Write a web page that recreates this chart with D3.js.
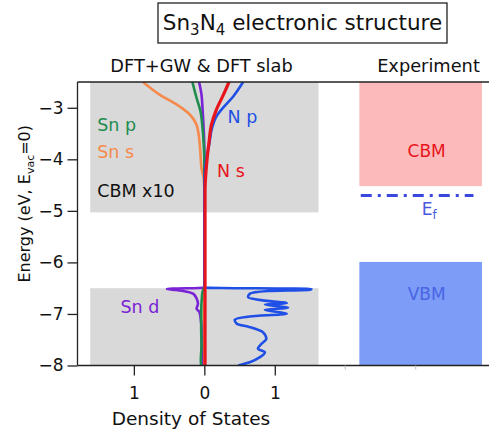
<!DOCTYPE html>
<html>
<head>
<meta charset="utf-8">
<script src="https://cdn.jsdelivr.net/npm/d3@7"></script>
<style>
  html, body { margin: 0; padding: 0; background: #fff; }
  svg { display: block; font-family: "DejaVu Sans", Verdana, sans-serif; }
</style>
</head>
<body>
<svg id="chart" width="489" height="431"></svg>
<script>
// Projected densities of states, [energy (eV), DOS]; Sn orbitals drawn to the left (negative side).
const snS = [[-2.5,-0.87],[-2.75,-0.63],[-2.94,-0.39],[-3.14,-0.20],[-3.33,-0.11],[-3.59,-0.074],[-3.91,-0.054],[-4.17,-0.04],[-4.37,-0.01],[-4.6,0],[-6.5,0],[-7.5,-0.01],[-8,-0.01]];
const snP = [[-2.5,-0.17],[-2.81,-0.11],[-3.07,-0.054],[-3.39,-0.026],[-3.72,-0.008],[-4.02,0],[-6.45,0],[-6.6,-0.03],[-7.0,-0.045],[-7.3,-0.045],[-7.6,-0.04],[-7.9,-0.05],[-8,-0.045]];
const snD = [[-2.5,-0.074],[-2.75,-0.04],[-3.0,-0.026],[-3.4,-0.01],[-3.8,0],[-6.49,0],[-6.515,-0.53],[-6.535,-0.40],[-6.556,-0.30],[-6.607,-0.16],[-6.70,-0.11],[-6.80,-0.09],[-6.90,-0.11],[-6.96,-0.07],[-7.06,-0.055],[-7.3,-0.04],[-8,-0.035]];
const nP = [[-2.5,0.55],[-2.78,0.41],[-3.04,0.24],[-3.17,0.17],[-3.39,0.11],[-3.72,0.068],[-3.98,0.03],[-4.2,0.01],[-4.5,0],[-6.49,0],[-6.515,1.52],[-6.53,1.5],[-6.556,0.9],[-6.607,0.645],[-6.673,0.62],[-6.737,0.83],[-6.79,1.17],[-6.815,0.86],[-6.879,1.19],[-6.92,0.86],[-6.996,1.17],[-7.048,0.645],[-7.112,0.43],[-7.19,0.46],[-7.256,0.645],[-7.353,0.83],[-7.482,0.88],[-7.579,0.81],[-7.676,0.76],[-7.742,0.86],[-7.839,0.79],[-7.936,0.645],[-8,0.48]];
const nS = [[-2.5,0.35],[-2.75,0.27],[-3.04,0.17],[-3.33,0.10],[-3.65,0.068],[-3.98,0.04],[-4.30,0.02],[-4.6,0.01],[-8,0.01]];

// Energy windows shaded behind the calculated DOS (conduction band is scaled x10)
const calcWindows = [{ top: -2.5, bottom: -5.03 }, { top: -6.5, bottom: -8 }];
// Measured band edges and Fermi level
const expBands = [
  { name: "CBM", top: -2.5, bottom: -4.52, fill: "#fcbabb", text: "#e8141c", labelE: -3.84 },
  { name: "VBM", top: -5.99, bottom: -8, fill: "#7c9cf7", text: "#4a64e4", labelE: -6.62 }
];
const fermiLevel = -4.7;

const yTicks = [-3, -4, -5, -6, -7, -8];
const xTicks = [-1, 0, 1];
const xMinorTicks = [2, 3];

const svg = d3.select("#chart");
const plotL = 77.5, plotR = 489, plotT = 82, plotB = 365.5;
const fontFamily = "\"DejaVu Sans\", Verdana, sans-serif";

const x = d3.scaleLinear().domain([-1.8, 4.04]).range([plotL, plotR]);
const y = d3.scaleLinear().domain([-2.5, -8]).range([plotT, plotB]);

svg.append("defs").append("clipPath").attr("id", "plotClip")
  .append("rect").attr("x", plotL).attr("y", plotT).attr("width", plotR - plotL).attr("height", plotB - plotT);

// shaded calculation windows
svg.append("g").selectAll("rect").data(calcWindows).join("rect")
  .attr("x", x(-1.62)).attr("width", x(1.62) - x(-1.62))
  .attr("y", d => y(d.top)).attr("height", d => y(d.bottom) - y(d.top))
  .attr("fill", "#d9d9d9");

// experiment column
const expX0 = 2.2, expX1 = 3.94;
const exp = svg.append("g");
exp.selectAll("rect").data(expBands).join("rect")
  .attr("x", x(expX0)).attr("width", x(expX1) - x(expX0))
  .attr("y", d => y(d.top)).attr("height", d => y(d.bottom) - y(d.top))
  .attr("fill", d => d.fill);
exp.selectAll("text").data(expBands).join("text")
  .attr("x", x((expX0 + expX1) / 2) + 6).attr("y", d => y(d.labelE) + 6)
  .attr("text-anchor", "middle").attr("font-size", 17).attr("fill", d => d.text)
  .text(d => d.name);
exp.append("line")
  .attr("x1", x(2.22)).attr("x2", x(3.82))
  .attr("y1", y(fermiLevel)).attr("y2", y(fermiLevel))
  .attr("stroke", "#3a48e0").attr("stroke-width", 3)
  .attr("stroke-dasharray", "11,6,3,6");
const ef = exp.append("text")
  .attr("x", x(3.1) - 1).attr("y", y(fermiLevel) + 20)
  .attr("font-size", 17).attr("fill", "#4a58e0");
ef.append("tspan").text("E");
ef.append("tspan").attr("font-size", 12).attr("dy", 4).text("f");

// DOS curves
const line = d3.line().x(d => x(d[1])).y(d => y(d[0])).curve(d3.curveMonotoneY);
const series = [
  { data: snS, color: "#f68a4c", w: 2.6 },
  { data: snD, color: "#7a22d6", w: 2.6 },
  { data: snP, color: "#1d8c4e", w: 2.6 },
  { data: nP, color: "#1f4fe6", w: 2.6 },
  { data: nS, color: "#e8141c", w: 3.2 }
];
svg.append("g").attr("clip-path", "url(#plotClip)")
  .selectAll("path").data(series).join("path")
  .attr("d", d => line(d.data))
  .attr("fill", "none").attr("stroke", d => d.color)
  .attr("stroke-width", d => d.w).attr("stroke-linejoin", "round");

// curve labels
const labels = [
  { t: "Sn p", dos: -1.52, e: -3.45, c: "#1d8c4e" },
  { t: "Sn s", dos: -1.52, e: -3.97, c: "#f68a4c" },
  { t: "CBM x10", dos: -1.52, e: -4.73, c: "#111" },
  { t: "N p", dos: 0.33, e: -3.3, c: "#1f4fe6" },
  { t: "N s", dos: 0.18, e: -4.35, c: "#e8141c" },
  { t: "Sn d", dos: -1.19, e: -6.99, c: "#7a22d6" }
];
svg.append("g").selectAll("text").data(labels).join("text")
  .attr("x", d => x(d.dos)).attr("y", d => y(d.e))
  .attr("font-size", 17.5).attr("fill", d => d.c).text(d => d.t);

// frame and axes
const axisG = svg.append("g").attr("stroke", "#222").attr("stroke-width", 1.3);
axisG.append("line").attr("x1", plotL).attr("x2", plotR).attr("y1", plotT).attr("y2", plotT);
axisG.append("line").attr("x1", plotL).attr("x2", plotR).attr("y1", plotB).attr("y2", plotB);
axisG.append("line").attr("x1", plotL).attr("x2", plotL).attr("y1", plotT).attr("y2", plotB);

const yAxis = svg.append("g").attr("transform", `translate(${plotL},0)`)
  .call(d3.axisLeft(y).tickValues(yTicks).tickSize(10).tickPadding(4).tickFormat(d3.format("d")));
yAxis.select(".domain").remove();
yAxis.selectAll("line").attr("stroke", "#222").attr("stroke-width", 1.3);
yAxis.selectAll("text").attr("font-size", 17).attr("fill", "#111").attr("font-family", fontFamily);

const xAxis = svg.append("g").attr("transform", `translate(0,${plotB})`)
  .call(d3.axisBottom(x).tickValues(xTicks).tickSize(10).tickPadding(11).tickFormat(d => Math.abs(d)));
xAxis.select(".domain").remove();
xAxis.selectAll("line").attr("stroke", "#222").attr("stroke-width", 1.3);
xAxis.selectAll("text").attr("font-size", 17).attr("fill", "#111").attr("font-family", fontFamily);

svg.append("g").selectAll("line").data(xMinorTicks).join("line")
  .attr("x1", d => x(d)).attr("x2", d => x(d))
  .attr("y1", plotB).attr("y2", plotB + 4)
  .attr("stroke", "#bbb").attr("stroke-width", 1);

// axis titles
svg.append("text").attr("x", 191).attr("y", 425).attr("text-anchor", "middle")
  .attr("font-size", 18.5).attr("fill", "#111").text("Density of States");
const yl = svg.append("text")
  .attr("transform", `translate(30,${(plotT + plotB) / 2 - 20}) rotate(-90)`)
  .attr("text-anchor", "middle").attr("font-size", 16).attr("fill", "#111");
yl.append("tspan").text("Energy (eV, E");
yl.append("tspan").attr("font-size", 11).attr("dy", 4).text("vac");
yl.append("tspan").attr("dy", -4).text("=0)");

// panel headings
svg.append("text").attr("x", 201.5).attr("y", 72).attr("text-anchor", "middle")
  .attr("font-size", 17.8).attr("fill", "#111").text("DFT+GW & DFT slab");
svg.append("text").attr("x", 428.5).attr("y", 72).attr("text-anchor", "middle")
  .attr("font-size", 17.8).attr("fill", "#111").text("Experiment");

// boxed title
svg.append("rect").attr("x", 158).attr("y", 3).attr("width", 289).attr("height", 40)
  .attr("fill", "none").attr("stroke", "#222").attr("stroke-width", 1.3);
const title = svg.append("text").attr("x", 302.5).attr("y", 30).attr("text-anchor", "middle")
  .attr("font-size", 21.5).attr("fill", "#111");
title.append("tspan").text("Sn");
title.append("tspan").attr("font-size", 15).attr("dy", 5).text("3");
title.append("tspan").attr("dy", -5).text("N");
title.append("tspan").attr("font-size", 15).attr("dy", 5).text("4");
title.append("tspan").attr("dy", -5).text(" electronic structure");
</script>
</body>
</html>
